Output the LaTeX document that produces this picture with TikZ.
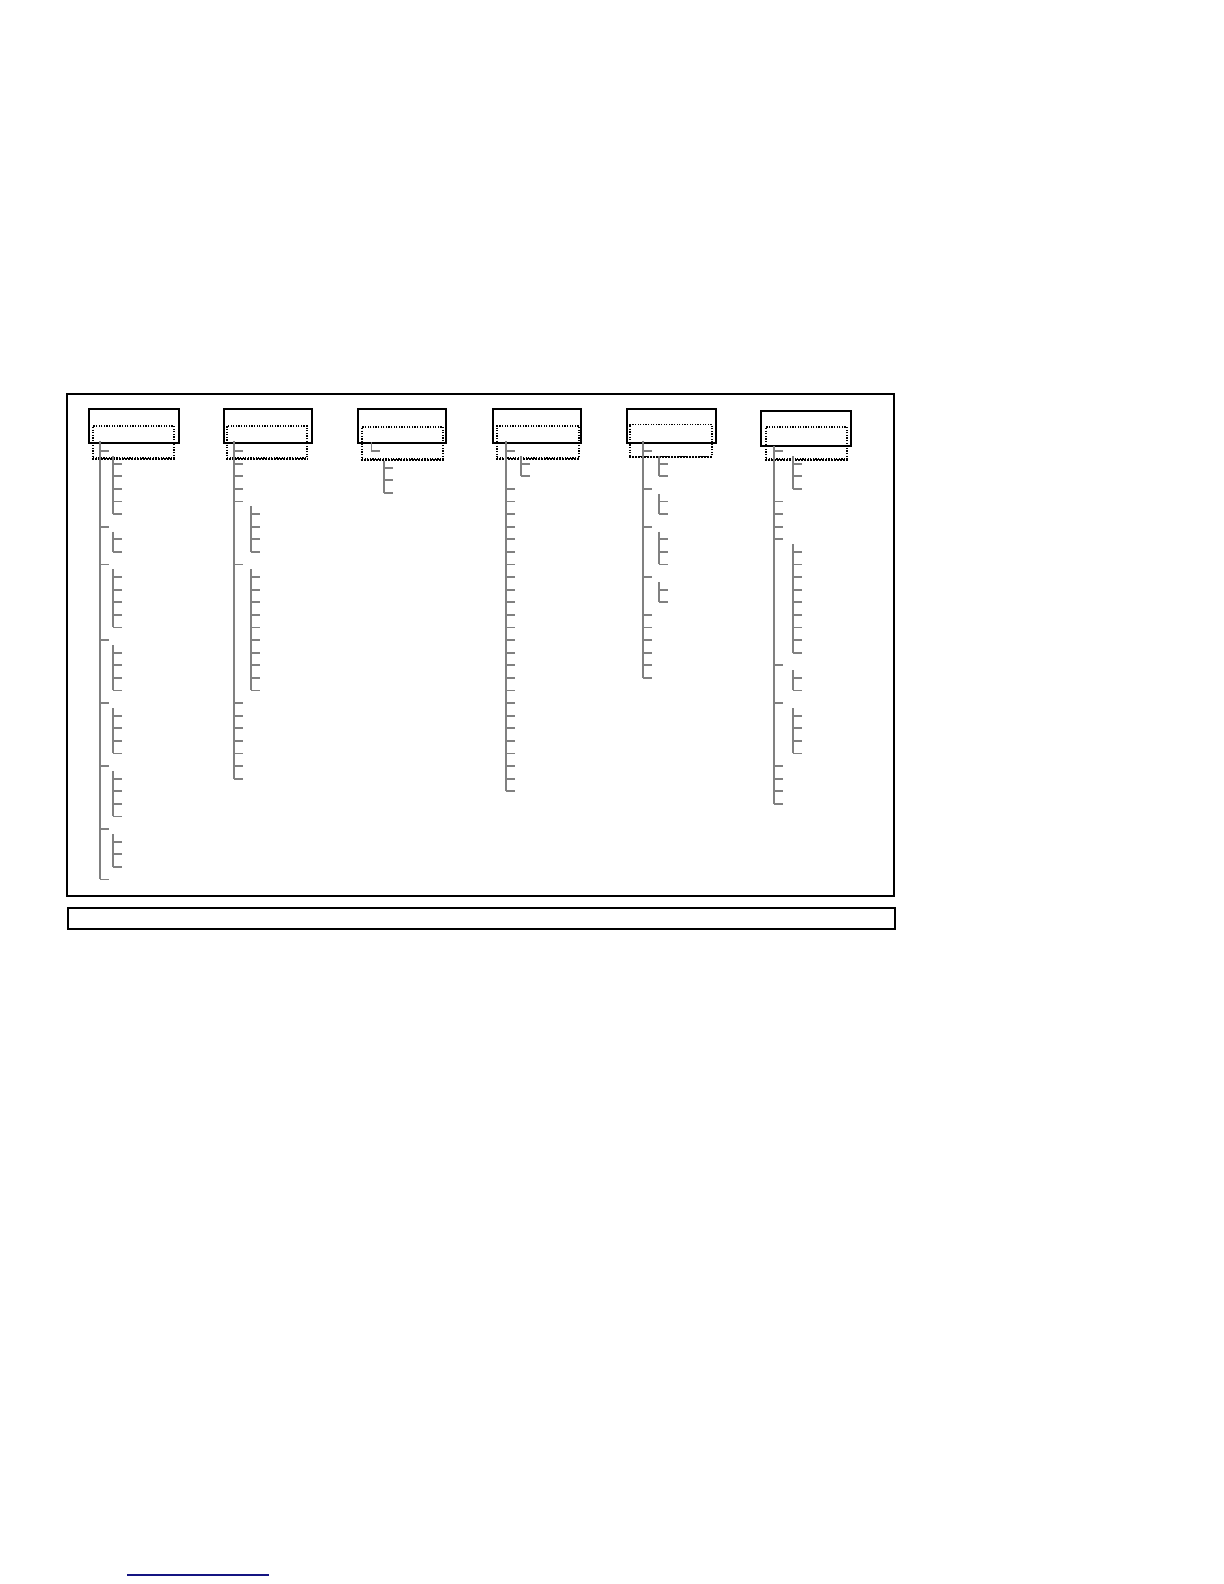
\documentclass[tikz,border=0pt]{standalone}
\usepackage{tikz}
\usetikzlibrary{calc}

\tikzset{
	headbox/.style={draw, line width=1.3pt, inner sep=0pt, minimum height=17pt},
	selbox/.style={draw, dash pattern=on 0.6pt off 0.7pt, line width=0.7pt, inner sep=0pt, minimum height=16pt},
	selbottom/.style={dash pattern=on 1pt off 0.5pt, line width=1.2pt},
	treeline/.style={draw=gray, line width=0.9pt},
	framebox/.style={draw, line width=0.6pt, inner sep=0pt},
}

\begin{document}
\begin{tikzpicture}[x=0.5pt,y=-0.5pt]
	\useasboundingbox (0,0) rectangle (1224,1584);
	\node[framebox, minimum width=413.5pt, minimum height=251pt] (frame) at (480.5,645) {};
	\node[framebox, minimum width=413.5pt, minimum height=10.5pt] (status) at (481.5,918.5) {};
	% header boxes with their dotted selection
	\foreach \n/\cx/\w in {1/134/45pt,2/268/44pt,4/537/44pt,5/671.5/44.5pt}
		\node[headbox, minimum width=\w] (head\n) at (\cx,426) {};
	\node[headbox, line width=0.9pt, minimum width=44pt] (head3) at (402,426) {};
	\node[headbox, minimum width=45pt, minimum height=17.5pt] (head6) at (806,428.5) {};
	\foreach \n/\cx/\cy/\w in {1/133.5/442/40.5pt,2/267/442/40pt,3/402.5/443/40.5pt,4/538/442/41pt,5/671/440.5/41pt,6/806.5/443/40.5pt} {
		\node[selbox, minimum width=\w] (sel\n) at (\cx,\cy) {};
		\draw[selbottom] (sel\n.south west) -- (sel\n.south east);
	};
	% tree 1
	\draw[treeline] (100,441) -- (100,{451+12.6*34});
	\foreach \r in {0,6,9,15,20,25,30,34}
		\draw[treeline] (100,{451+12.6*\r}) -- ++(9,0);
	\foreach \p/\a/\b in {0/1/5,6/7/8,9/10/14,15/16/19,20/21/24,25/26/29,30/31/33} {
		\draw[treeline] (113,{451+12.6*\p+5}) -- (113,{451+12.6*\b});
		\foreach \r in {\a,...,\b}
			\draw[treeline] (113,{451+12.6*\r}) -- ++(9,0);
	};
	% tree 2
	\draw[treeline] (234,441) -- (234,{451+12.6*26});
	\foreach \r in {0,1,2,3,4,9,20,21,22,23,24,25,26}
		\draw[treeline] (234,{451+12.6*\r}) -- ++(9,0);
	\foreach \p/\a/\b in {4/5/8,9/10/19} {
		\draw[treeline] (251,{451+12.6*\p+5}) -- (251,{451+12.6*\b});
		\foreach \r in {\a,...,\b}
			\draw[treeline] (251,{451+12.6*\r}) -- ++(9,0);
	};
	% tree 3
	\draw[treeline] (371.5,442) -- (371.5,451) -- ++(8,0);
	\draw[treeline] (384,461) -- (384,{455+12.6*3});
	\foreach \r in {1,2,3}
		\draw[treeline] (384,{455+12.6*\r}) -- ++(9,0);
	% tree 4
	\draw[treeline] (506,441) -- (506,{451+12.6*27});
	\foreach \r in {0,3,4,...,27}
		\draw[treeline] (506,{451+12.6*\r}) -- ++(9,0);
	\draw[treeline] (521,456) -- (521,{451+12.6*2});
	\foreach \r in {1,2}
		\draw[treeline] (521,{451+12.6*\r}) -- ++(9,0);
	% tree 5
	\draw[treeline] (643,441) -- (643,{451+12.6*18});
	\foreach \r in {0,3,6,10,13,14,...,18}
		\draw[treeline] (643,{451+12.6*\r}) -- ++(9,0);
	\foreach \p/\a/\b in {0/1/2,3/4/5,6/7/9,10/11/12} {
		\draw[treeline] (659,{451+12.6*\p+5}) -- (659,{451+12.6*\b});
		\foreach \r in {\a,...,\b}
			\draw[treeline] (659,{451+12.6*\r}) -- ++(9,0);
	};
	% tree 6
	\draw[treeline] (774,446) -- (774,{451+12.6*28});
	\foreach \r in {0,4,5,6,7,17,20,25,26,27,28}
		\draw[treeline] (774,{451+12.6*\r}) -- ++(9,0);
	\foreach \p/\a/\b in {0/1/3,7/8/16,17/18/19,20/21/24} {
		\draw[treeline] (793,{451+12.6*\p+5}) -- (793,{451+12.6*\b});
		\foreach \r in {\a,...,\b}
			\draw[treeline] (793,{451+12.6*\r}) -- ++(9,0);
	};
	% link underline
	\draw[draw={rgb,255:red,20;green,20;blue,130}, line width=0.8pt] (127,1575) -- (269,1575);
\end{tikzpicture}
\end{document}
